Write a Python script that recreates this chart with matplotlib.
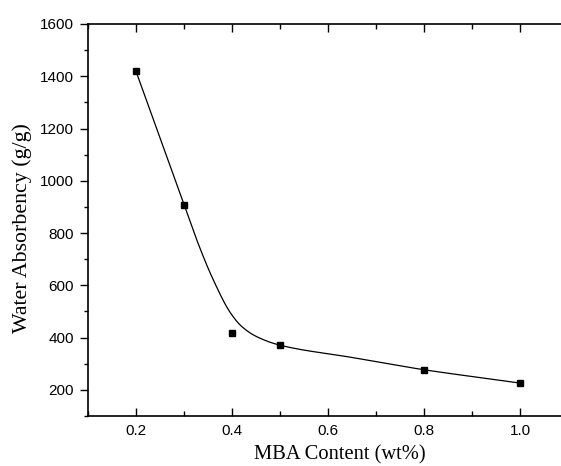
import numpy as np
import matplotlib
matplotlib.use("Agg")
import matplotlib.pyplot as plt
from matplotlib.ticker import MultipleLocator

# measured water absorbency vs MBA crosslinker content
mba = [0.2, 0.3, 0.4, 0.5, 0.8, 1.0]
absorbency = [1419, 909, 417, 371, 277, 226]

# smoothed trend line (read at a few x positions)
trend_x = [0.2, 0.25, 0.3, 0.332, 0.361, 0.397, 0.42, 0.451, 0.5, 0.65, 0.8, 0.9, 1.0]
trend_y = [1419, 1164, 909, 748, 621, 494, 443, 404, 371, 324, 277, 251, 226]


def pchip(x, y, xs):
    # monotone cubic hermite (Fritsch-Carlson)
    x = np.asarray(x, float)
    y = np.asarray(y, float)
    h = np.diff(x)
    d = np.diff(y) / h
    m = np.zeros_like(y)
    m[0], m[-1] = d[0], d[-1]
    for i in range(1, len(y) - 1):
        if d[i - 1] * d[i] > 0:
            w1 = 2 * h[i] + h[i - 1]
            w2 = h[i] + 2 * h[i - 1]
            m[i] = (w1 + w2) / (w1 / d[i - 1] + w2 / d[i])
    idx = np.clip(np.searchsorted(x, xs) - 1, 0, len(h) - 1)
    t = (xs - x[idx]) / h[idx]
    h00 = 2 * t**3 - 3 * t**2 + 1
    h10 = t**3 - 2 * t**2 + t
    h01 = -2 * t**3 + 3 * t**2
    h11 = t**3 - t**2
    return (h00 * y[idx] + h10 * h[idx] * m[idx]
            + h01 * y[idx + 1] + h11 * h[idx] * m[idx + 1])


fig = plt.figure(figsize=(5.61, 4.66), dpi=100)
ax = fig.add_axes([88 / 561, 50 / 466, 480 / 561, 392 / 466])

xs = np.linspace(trend_x[0], trend_x[-1], 400)
ax.plot(xs, pchip(trend_x, trend_y, xs), color="black", lw=0.9)
ax.plot(mba, absorbency, "s", color="black", ms=4.2)

ax.set_xlim(0.1, 1.1)
ax.set_ylim(100, 1600)
ax.xaxis.set_minor_locator(MultipleLocator(0.1))
ax.yaxis.set_minor_locator(MultipleLocator(100))
ax.set_xticks([0.2, 0.4, 0.6, 0.8, 1.0])
ax.set_xticklabels(["0.2", "0.4", "0.6", "0.8", "1.0"])
ax.set_yticks(range(200, 1601, 200))

for lab in ax.get_xticklabels() + ax.get_yticklabels():
    lab.set_fontfamily("Liberation Sans")
    lab.set_fontsize(11)

ax.tick_params(axis="x", which="major", direction="in", length=6, width=1, pad=6)
ax.tick_params(axis="x", which="minor", direction="in", length=3.5, width=1)
ax.tick_params(axis="x", which="both", top=True, labeltop=False)
ax.tick_params(axis="y", which="major", direction="out", length=5.5, width=1, pad=4.5)
ax.tick_params(axis="y", which="minor", direction="out", length=3, width=1)

for side in ["left", "bottom", "top"]:
    ax.spines[side].set_linewidth(1.2)
ax.spines["right"].set_visible(False)

ax.set_xlabel("MBA Content (wt%)", family="Liberation Serif", fontsize=14.75, va="center")
ax.set_ylabel("Water Absorbency (g/g)", family="Liberation Serif", fontsize=15.75, va="center")
ax.xaxis.set_label_coords(0.525, -0.1)
ax.yaxis.set_label_coords(-0.1375, 0.48)

fig.savefig("out.png", dpi=100)
